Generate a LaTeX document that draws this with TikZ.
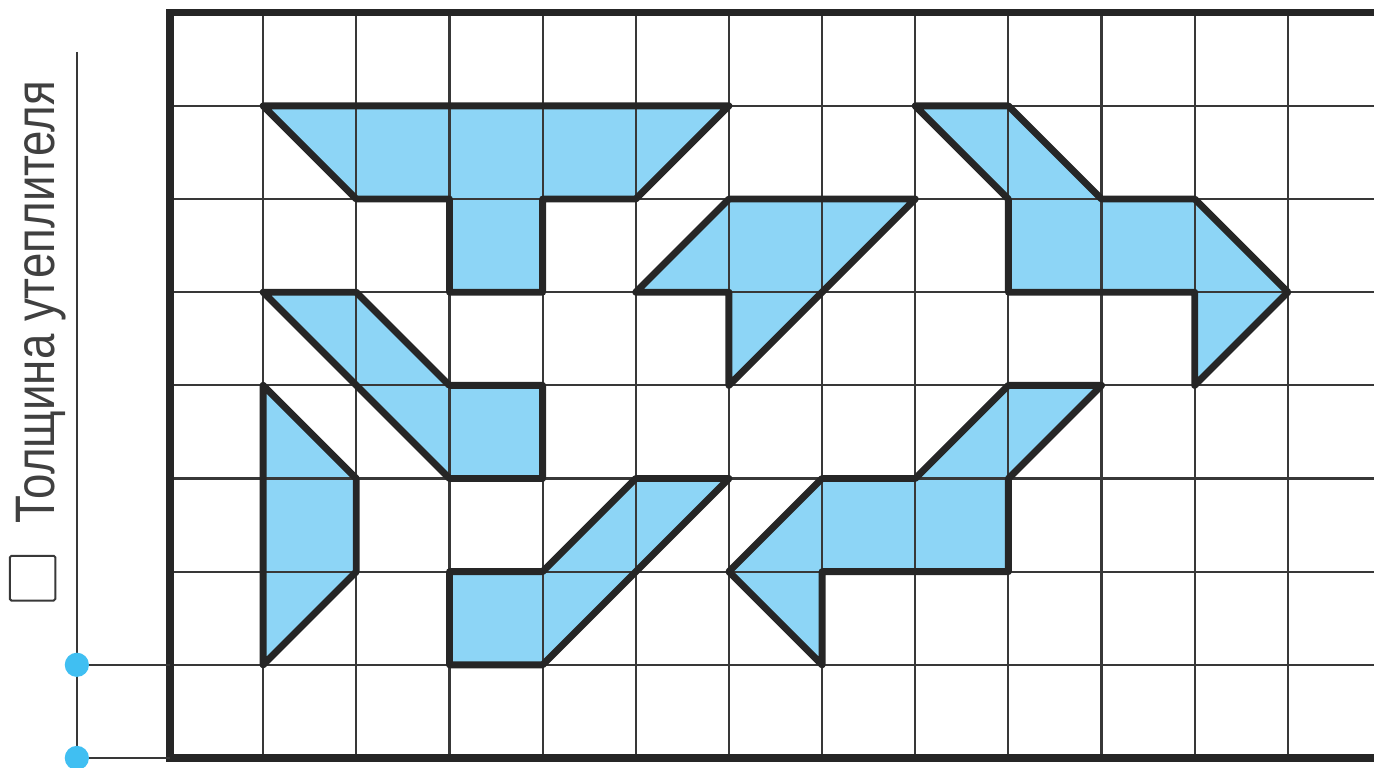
\documentclass[tikz,border=0pt]{standalone}
\usepackage{fontspec}
\newfontfamily\labelfont[FakeStretch=0.82]{Liberation Sans}
\definecolor{fillblue}{HTML}{8DD5F6}
\definecolor{dotblue}{HTML}{40BFF2}
\definecolor{gridgray}{HTML}{383838}

\begin{document}
\begin{tikzpicture}[
	gridline/.style={draw=gridgray,line width=0.65pt},
	frameline/.style={draw=black!85,line width=2.2pt},
	figline/.style={draw=black!85,line width=2.1pt,line join=round},
	endpoint/.style={fill=dotblue},
] % tikzpicture環境開始
\useasboundingbox (-1.825,-0.097) rectangle (12.925,8.137);
\clip (-1.825,-0.097) rectangle (12.925,8.137);
% 図形の塗り
\foreach \fig in%
{%
	{(1,7)--(6,7)--(5,6)--(4,6)--(4,5)--(3,5)--(3,6)--(2,6)},%
	{(5,5)--(6,6)--(8,6)--(6,4)--(6,5)},%
	{(8,7)--(9,7)--(10,6)--(11,6)--(12,5)--(11,4)--(11,5)--(9,5)--(9,6)},%
	{(1,5)--(2,5)--(3,4)--(4,4)--(4,3)--(3,3)},%
	{(1,4)--(2,3)--(2,2)--(1,1)},%
	{(3,2)--(4,2)--(5,3)--(6,3)--(4,1)--(3,1)},%
	{(6,2)--(7,3)--(8,3)--(9,4)--(10,4)--(9,3)--(9,2)--(7,2)--(7,1)}%
}{%
	\fill[fillblue] \fig -- cycle;
}%
% 方眼
\foreach \a in {1,...,13}{%
	\path[gridline] (\a,0) -- (\a,8);
}%
\foreach \b in {1,...,7}{%
	\path[gridline] (0,\b) -- (13.5,\b);
}%
\path[frameline] (13.5,8) -- (0,8) -- (0,0) -- (13.5,0);
% 図形の輪郭
\foreach \fig in%
{%
	{(1,7)--(6,7)--(5,6)--(4,6)--(4,5)--(3,5)--(3,6)--(2,6)},%
	{(5,5)--(6,6)--(8,6)--(6,4)--(6,5)},%
	{(8,7)--(9,7)--(10,6)--(11,6)--(12,5)--(11,4)--(11,5)--(9,5)--(9,6)},%
	{(1,5)--(2,5)--(3,4)--(4,4)--(4,3)--(3,3)},%
	{(1,4)--(2,3)--(2,2)--(1,1)},%
	{(3,2)--(4,2)--(5,3)--(6,3)--(4,1)--(3,1)},%
	{(6,2)--(7,3)--(8,3)--(9,4)--(10,4)--(9,3)--(9,2)--(7,2)--(7,1)}%
}{%
	\path[figline] \fig -- cycle;
}%
% 寸法線
\coordinate (top) at (-1,7.58);
\coordinate (low) at (-1,1);
\coordinate (base) at (-1,0);
\path[gridline] (top) -- (base);
\path[gridline] (low) -- (0,1);
\path[gridline] (base) -- (0,0);
\path[endpoint] (low) circle [radius=0.13cm];
\path[endpoint] (base) circle [radius=0.13cm];
\draw[gridgray,line width=0.6pt,rounded corners=0.5pt] (-1.72,1.69) rectangle (-1.23,2.17);
\node[rotate=90,anchor=base west,inner sep=0pt,font=\labelfont\fontsize{17}{17}\selectfont,text=black!75] (label) at (-1.235,2.51) {Толщина утеплителя};
\end{tikzpicture}
\end{document}
